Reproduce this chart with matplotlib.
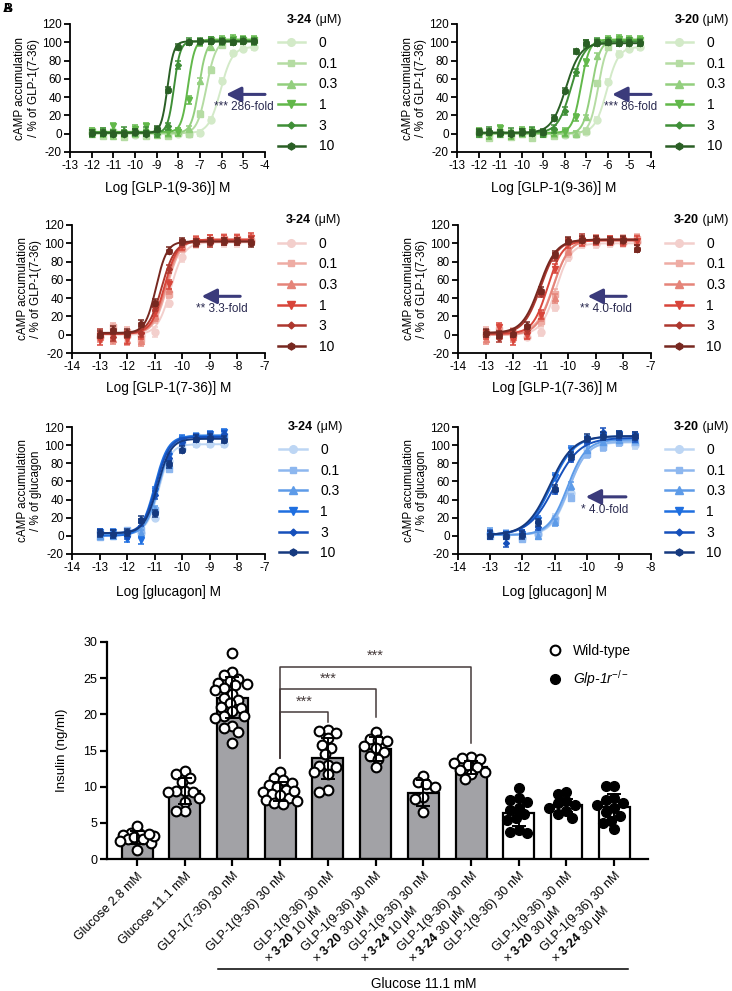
import numpy as np
import matplotlib
matplotlib.use("Agg")
import matplotlib.pyplot as plt
from matplotlib.lines import Line2D
import matplotlib.transforms as mtransforms

plt.rcParams['font.family'] = ['Liberation Sans', 'DejaVu Sans']
plt.rcParams['mathtext.fontset'] = 'custom'
plt.rcParams['mathtext.rm'] = 'Liberation Sans'
plt.rcParams['mathtext.bf'] = 'Liberation Sans:bold'
plt.rcParams['mathtext.it'] = 'Liberation Sans:italic'
plt.rcParams['axes.unicode_minus'] = False

# ---------------- dose-response data ----------------
conc_labels = ['0', '0.1', '0.3', '1', '3', '10']

greens = ['#d3eac8', '#b5dca3', '#93cf7e', '#62b84a', '#3f8f37', '#2a5f25']
reds = ['#f3cfcc', '#eeaca4', '#e58479', '#d8453a', '#ad372e', '#772820']
blues = ['#bdd6f4', '#8db7ef', '#5d9be8', '#1f6fe0', '#1650bb', '#15397f']

dose_9_36 = np.arange(-12, -4.4, 0.5)
dose_7_36 = np.arange(-13, -7.4, 0.5)
dose_gcg = np.arange(-13, -8.4, 0.5)

# GLP-1(9-36) + 3-24
a_vals = [
    [1, 2, 0, 1, -1, 2, 0, 1, 0, 0, 1, 15, 58, 88, 93, 95],
    [3, -3, 2, -4, 2, -2, 3, -3, 1, 0, 22, 70, 97, 101, 102, 103],
    [0, 3, -2, 1, 0, 2, -1, 0, 3, 5, 58, 95, 101, 102, 102, 102],
    [2, 0, 8, 0, 5, 8, 3, 2, 2, 37, 100, 102, 103, 104, 103, 103],
    [0, 2, 0, 3, 1, 3, 0, 8, 75, 101, 101, 102, 101, 101, 102, 101],
    [1, 1, 0, 0, 2, 0, 5, 48, 95, 100, 101, 101, 101, 100, 101, 101],
]
a_sem = [3, 3, 3, 4, 4, 3]
a_fit = [(0.5, 95, -6.05, 1.6), (0, 102, -6.7, 2.0), (1, 102, -7.05, 2.5),
         (2, 103, -7.55, 2.8), (1, 101, -8.2, 3.0), (1, 101, -8.5, 3.0)]

# GLP-1(9-36) + 3-20
b_vals = [
    [1, 0, 2, 0, 1, 0, 1, 0, -1, 0, 2, 15, 57, 87, 93, 95],
    [3, -5, 2, -4, 1, -5, 0, -3, 0, 0, 3, 55, 95, 101, 102, 103],
    [0, 2, 0, 1, 0, 2, 1, 0, 0, 0, 18, 85, 100, 102, 102, 102],
    [2, -2, 6, -2, 3, 2, 0, 2, 2, 18, 78, 100, 103, 104, 103, 103],
    [0, 3, 0, 2, 1, 3, 0, 5, 25, 67, 98, 101, 101, 100, 101, 100],
    [2, 2, 1, 0, 2, 1, 2, 17, 47, 90, 99, 99, 100, 99, 99, 99],
]
b_sem = [3, 3, 3, 4, 4, 3]
b_fit = [(0.5, 95, -6.05, 1.6), (0, 102, -6.45, 2.2), (0, 102, -6.75, 2.2),
         (1, 103, -7.25, 2.2), (1, 101, -7.7, 1.4), (1, 99, -7.95, 1.3)]

# GLP-1(7-36) + 3-24
c_vals = [
    [-2, 2, -1, 0, 3, 35, 85, 100, 101, 101, 101, 102],
    [0, 8, 3, -5, 18, 45, 95, 103, 104, 105, 105, 103],
    [-3, -5, -6, -7, 20, 50, 97, 103, 104, 104, 104, 104],
    [-6, 0, -5, 0, 25, 55, 98, 102, 104, 104, 104, 106],
    [2, -3, 0, 2, 30, 72, 100, 100, 100, 102, 102, 103],
    [0, 5, 2, 12, 35, 92, 102, 101, 102, 102, 102, 100],
]
c_sem = [5, 5, 5, 5, 4, 4]
c_fit = [(0, 101, -10.42, 1.8), (1, 104, -10.55, 1.8), (1, 104, -10.6, 1.8),
         (1, 104, -10.65, 1.8), (1, 102, -10.75, 1.8), (2, 102, -10.95, 2.2)]

# GLP-1(7-36) + 3-20
d_vals = [
    [0, 2, 0, -2, 3, 30, 85, 99, 99, 100, 100, 101],
    [3, 5, 2, 5, 15, 45, 90, 102, 104, 103, 104, 105],
    [-5, 0, -3, 0, 20, 40, 92, 103, 104, 103, 103, 104],
    [0, 8, -6, 0, 22, 72, 100, 102, 103, 103, 102, 103],
    [1, -4, 2, 5, 45, 85, 102, 106, 103, 102, 103, 94],
    [2, 0, 1, 10, 48, 88, 103, 104, 104, 103, 104, 94],
]
d_sem = [4, 5, 5, 5, 4, 4]
d_fit = [(0, 100, -10.45, 1.6), (2, 104, -10.55, 1.5), (0, 104, -10.55, 1.5),
         (1, 103, -10.75, 1.6), (1, 104, -11.0, 1.4), (2, 104, -11.05, 1.4)]

# glucagon + 3-24
e_vals = [
    [4, 3, 2, 3, 20, 83, 96, 101, 101, 101],
    [-1, 2, 6, 6, 28, 74, 104, 110, 110, 110],
    [0, 0, 3, 3, 30, 78, 107, 110, 112, 112],
    [4, 4, -3, -5, 50, 88, 107, 108, 112, 114],
    [4, 2, 0, 15, 45, 86, 104, 108, 110, 112],
    [3, 2, 4, 18, 25, 79, 95, 107, 108, 106],
]
e_sem = [3, 3, 3, 4, 4, 4]
e_fit = [(3, 101, -10.85, 2.0), (2, 110, -10.85, 1.8), (1, 111, -10.85, 1.8),
         (0, 110, -11.0, 1.8), (3, 109, -10.95, 1.8), (3, 107, -10.9, 1.8)]

# glucagon + 3-20
f_vals = [
    [3, 0, -2, 2, 20, 47, 96, 100, 103, 100],
    [0, 2, -3, 3, 18, 42, 90, 98, 103, 104],
    [5, 0, 2, 0, 15, 55, 95, 104, 106, 106],
    [0, 1, 2, 18, 65, 95, 106, 110, 112, 110],
    [2, -8, 3, 10, 50, 85, 105, 115, 110, 108],
    [1, 0, 1, 15, 52, 88, 108, 110, 112, 110],
]
f_sem = [4, 4, 4, 4, 4, 4]
f_fit = [(1, 103, -10.55, 1.6), (1, 104, -10.55, 1.5), (1, 106, -10.6, 1.5),
         (1, 110, -11.1, 1.2), (1, 108, -11.0, 1.1), (1, 110, -11.15, 1.2)]

# ---------------- insulin bar data ----------------
bar_labels = [
    'Glucose 2.8 mM',
    'Glucose 11.1 mM',
    'GLP-1(7-36) 30 nM',
    'GLP-1(9-36) 30 nM',
    'GLP-1(9-36) 30 nM\n× $\\mathbf{3}$-$\\mathbf{20}$ 10 μM',
    'GLP-1(9-36) 30 nM\n× $\\mathbf{3}$-$\\mathbf{20}$ 30 μM',
    'GLP-1(9-36) 30 nM\n× $\\mathbf{3}$-$\\mathbf{24}$ 10 μM',
    'GLP-1(9-36) 30 nM\n× $\\mathbf{3}$-$\\mathbf{24}$ 30 μM',
    'GLP-1(9-36) 30 nM',
    'GLP-1(9-36) 30 nM\n× $\\mathbf{3}$-$\\mathbf{20}$ 30 μM',
    'GLP-1(9-36) 30 nM\n× $\\mathbf{3}$-$\\mathbf{24}$ 30 μM',
]
bar_means = [3.0, 9.4, 22.3, 9.3, 13.9, 15.2, 9.1, 12.7, 6.3, 7.4, 7.2]
bar_sd = [0.9, 1.8, 2.8, 1.3, 2.8, 1.6, 1.8, 0.9, 1.7, 0.9, 1.8]
knockout = [False] * 8 + [True] * 3
bar_points = [
    [3.6, 3.3, 3.5, 2.8, 3.0, 2.5, 2.2, 4.6, 1.2, 3.2, 2.7, 3.4],
    [12.2, 11.8, 11.2, 10.6, 9.4, 9.4, 9.3, 9.2, 8.4, 7.9, 6.7, 6.6],
    [28.5, 25.8, 25.4, 24.9, 24.6, 24.4, 24.0, 23.6, 23.3, 22.8, 22.3, 22.0,
     21.5, 21.0, 20.9, 20.4, 19.8, 19.8, 19.5, 18.4, 18.1, 17.6, 16.0, 24.2],
    [12.0, 11.2, 10.9, 10.5, 10.2, 9.9, 9.6, 9.3, 9.0, 8.8, 8.5, 8.2, 8.0, 7.8, 7.6, 9.4],
    [17.9, 17.7, 17.4, 16.7, 15.8, 15.4, 14.5, 13.0, 12.8, 12.7, 12.0, 11.8, 9.6, 9.2],
    [17.6, 16.6, 16.4, 16.3, 15.6, 15.3, 14.8, 14.3, 13.8, 12.7],
    [11.5, 10.6, 10.4, 10.0, 8.6, 8.3, 6.5],
    [14.1, 14.0, 13.8, 13.3, 13.0, 12.7, 12.3, 12.0, 11.8, 11.0],
    [9.8, 8.4, 8.1, 7.9, 7.0, 6.8, 6.2, 5.6, 5.4, 4.0, 3.7, 3.6],
    [9.2, 9.0, 8.0, 7.7, 7.4, 7.0, 6.6, 6.2, 5.6],
    [10.1, 10.1, 8.5, 8.2, 7.8, 7.5, 7.0, 6.5, 6.0, 5.3, 5.0, 4.2],
]
# (left bar, right bar, bracket height, left leg end, right leg end)
sig_brackets = [(3, 4, 20.3, 14.0, 19.0), (3, 5, 23.5, 14.0, 19.6), (3, 7, 26.6, 14.0, 16.0)]

W, H = 732, 991
fig = plt.figure(figsize=(W / 100, H / 100), dpi=100)
ARROW = '#3b3b7b'


def px_rect(x0, x1, ytop, ybot):
    return [x0 / W, (H - ybot) / H, (x1 - x0) / W, (ybot - ytop) / H]


def logistic(x, bottom, top, logec, hill):
    return bottom + (top - bottom) / (1 + 10 ** ((logec - x) * hill))


markers = ['o', 's', '^', 'v', 'D', 'h']
msizes = [5, 4.5, 5, 5, 3, 4.5]


def dose_panel(rect, doses, vals, sem, fits, colors, xlim, cmpd, xlabel, ylabel,
               leg_xy, xlab_y, arrow=None):
    ax = fig.add_axes(rect)
    xs = np.linspace(doses[0], doses[-1], 300)
    for i in range(6):
        z = 2 + i
        ax.plot(xs, logistic(xs, *fits[i]), color=colors[i], lw=1.4, zorder=z)
        ax.errorbar(doses, vals[i], yerr=sem[i], fmt=markers[i], ms=msizes[i],
                    color=colors[i], ecolor=colors[i], elinewidth=1.1, capsize=2.5,
                    capthick=1.1, zorder=z)
    ax.set_xlim(*xlim)
    ax.set_ylim(-20, 120)
    ax.set_xticks(np.arange(xlim[0], xlim[1] + 1))
    ax.set_yticks(np.arange(-20, 121, 20))
    for s in ['top', 'right']:
        ax.spines[s].set_visible(False)
    for s in ['left', 'bottom']:
        ax.spines[s].set_linewidth(1.3)
    ax.tick_params(width=1.3, length=4, labelsize=8.5, pad=2)
    ax.set_xlabel(xlabel, fontsize=9.8, va='center')
    ax.xaxis.set_label_coords(0.5, xlab_y)
    ax.set_ylabel(ylabel, fontsize=8.4, va='center', linespacing=1.15)
    ax.yaxis.set_label_coords(-0.22, 0.5)
    handles = [Line2D([], [], color=colors[i], marker=markers[i], ms=msizes[i] + 0.5, lw=1.8)
               for i in range(6)]
    ax.legend(handles, conc_labels, loc='upper left', bbox_to_anchor=leg_xy, frameon=False,
              fontsize=10, handlelength=1.95, handletextpad=1.0, labelspacing=0.48,
              borderpad=0, borderaxespad=0)
    t = ax.text(leg_xy[0] + 0.045, leg_xy[1] + 0.08, cmpd, transform=ax.transAxes,
                fontsize=9, fontweight='bold', va='bottom', ha='left')
    ax.annotate(' (μM)', xy=(1, 0), xycoords=t, fontsize=9, va='bottom', ha='left')
    if arrow is not None:
        x_tail, x_head, y_ar, label, x_txt, y_txt = arrow
        ax.annotate('', xy=(x_head, y_ar), xytext=(x_tail, y_ar),
                    arrowprops=dict(arrowstyle='-|>,head_length=0.9,head_width=0.45',
                                    color=ARROW, lw=2.2, mutation_scale=10, shrinkA=0, shrinkB=0),
                    annotation_clip=False)
        ax.text(x_txt, y_txt, label, fontsize=8.5, color='#2a2a50', ha='center', va='center',
                clip_on=False)
    return ax


ylab_glp = 'cAMP accumulation\n/ % of GLP-1(7-36)'
ylab_gcg = 'cAMP accumulation\n/ % of glucagon'

dose_panel(px_rect(70, 265, 24, 152), dose_9_36, a_vals, a_sem, a_fit, greens, (-13, -4),
           '3-24', 'Log [GLP-1(9-36)] M', ylab_glp, (1.065, 0.905), -0.28,
           (-4.0, -5.8, 43, '*** 286-fold', -5.0, 29))
dose_panel(px_rect(457, 651, 24, 152), dose_9_36, b_vals, b_sem, b_fit, greens, (-13, -4),
           '3-20', 'Log [GLP-1(9-36)] M', ylab_glp, (1.075, 0.905), -0.28,
           (-4.0, -5.8, 43, '*** 86-fold', -4.95, 29))
dose_panel(px_rect(72, 265, 225, 353), dose_7_36, c_vals, c_sem, c_fit, reds, (-14, -7),
           '3-24', 'Log [GLP-1(7-36)] M', ylab_glp, (1.065, 0.91), -0.275,
           (-7.9, -9.3, 42, '** 3.3-fold', -8.55, 28))
dose_panel(px_rect(458, 651, 225, 353), dose_7_36, d_vals, d_sem, d_fit, reds, (-14, -7),
           '3-20', 'Log [GLP-1(7-36)] M', ylab_glp, (1.075, 0.91), -0.275,
           (-7.9, -9.3, 42, '** 4.0-fold', -8.65, 28))
dose_panel(px_rect(72, 265, 427, 554), dose_gcg, e_vals, e_sem, e_fit, blues, (-14, -7),
           '3-24', 'Log [glucagon] M', ylab_gcg, (1.075, 0.875), -0.30)
dose_panel(px_rect(458, 651, 427, 554), dose_gcg, f_vals, f_sem, f_fit, blues, (-14, -8),
           '3-20', 'Log [glucagon] M', ylab_gcg, (1.075, 0.875), -0.30,
           (-8.78, -10.03, 43, '* 4.0-fold', -9.43, 29))

fig.text(0.003, 0.997, 'A', fontsize=9, fontweight='bold', va='top', ha='left')
fig.text(0.004, 0.997, 'B', fontsize=9, fontweight='bold', va='top', ha='left')

# ---------------- insulin bar chart ----------------
axb = fig.add_axes(px_rect(107, 648, 642, 859))
xpos = np.arange(len(bar_means))
axb.bar(xpos, bar_means, width=0.65, color=['white' if k else '#a2a2a6' for k in knockout],
        edgecolor='black', linewidth=1.6, zorder=1)


def swarm(vals, dx=0.19, dy=1.25, maxoff=0.36):
    vals = np.asarray(vals, float)
    cand = [0.0]
    step = 0.06
    k = 1
    while k * step <= maxoff:
        cand += [-k * step, k * step]
        k += 1
    placed = []
    offs = np.zeros(len(vals))
    for i in np.argsort(-vals):
        best, best_d = 0.0, -1
        for c in cand:
            d = min([((c - o) / dx) ** 2 + ((vals[i] - w) / dy) ** 2 for o, w in placed] or [9])
            if d >= 0.8:
                best = c
                break
            if d > best_d:
                best, best_d = c, d
        offs[i] = best
        placed.append((best, vals[i]))
    return offs


for i, pts in enumerate(bar_points):
    off = swarm(pts)
    if knockout[i]:
        axb.plot(xpos[i] + off, pts, 'o', ms=7, color='black', zorder=3, clip_on=False)
    else:
        axb.plot(xpos[i] + off, pts, 'o', ms=7, mfc='white', mec='black', mew=1.5,
                 zorder=3, clip_on=False)

axb.errorbar(xpos, bar_means, yerr=bar_sd, fmt='none', ecolor='black', elinewidth=1.4,
             capsize=5, capthick=1.4, zorder=4)

BR = '#453a3a'
for l, r, h, yl, yr in sig_brackets:
    axb.plot([xpos[l], xpos[l], xpos[r], xpos[r]], [yl, h, h, yr], color=BR, lw=1.1, zorder=2)
    axb.text((xpos[l] + xpos[r]) / 2, h + 0.5, '***', ha='center', va='bottom', fontsize=10.5,
             color=BR)

axb.set_xlim(-0.63, 10.71)
axb.set_ylim(0, 30)
axb.set_yticks(np.arange(0, 31, 5))
axb.set_xticks(xpos)
axb.set_xticklabels(bar_labels, rotation=45, ha='right', rotation_mode='anchor',
                    multialignment='left', fontsize=9)
for s in ['top', 'right']:
    axb.spines[s].set_visible(False)
for s in ['left', 'bottom']:
    axb.spines[s].set_linewidth(1.6)
axb.tick_params(width=1.6, length=5, labelsize=9, pad=2)
axb.tick_params(axis='x', pad=3)
axb.set_ylabel('Insulin (ng/ml)', fontsize=9.5, va='center')
axb.yaxis.set_label_coords(-0.083, 0.5)

wt = Line2D([], [], marker='o', ls='none', ms=7, mfc='white', mec='black', mew=1.5)
ko = Line2D([], [], marker='o', ls='none', ms=7, color='black')
leg = axb.legend([wt, ko], ['Wild-type', 'Glp-1r$^{-/-}$'], loc='upper left',
                 bbox_to_anchor=(0.815, 0.99), frameon=False, fontsize=10, handlelength=1.0,
                 handletextpad=0.8, labelspacing=0.75, borderpad=0, borderaxespad=0)
leg.get_texts()[1].set_fontstyle('italic')

tr = mtransforms.blended_transform_factory(axb.transData, axb.transAxes)
axb.plot([1.70, 10.29], [-0.507, -0.507], color='black', lw=1.1, transform=tr, clip_on=False)
axb.text(6.0, -0.575, 'Glucose 11.1 mM', transform=tr, ha='center', va='center', fontsize=9.8)

fig.savefig('out.png', dpi=100)
